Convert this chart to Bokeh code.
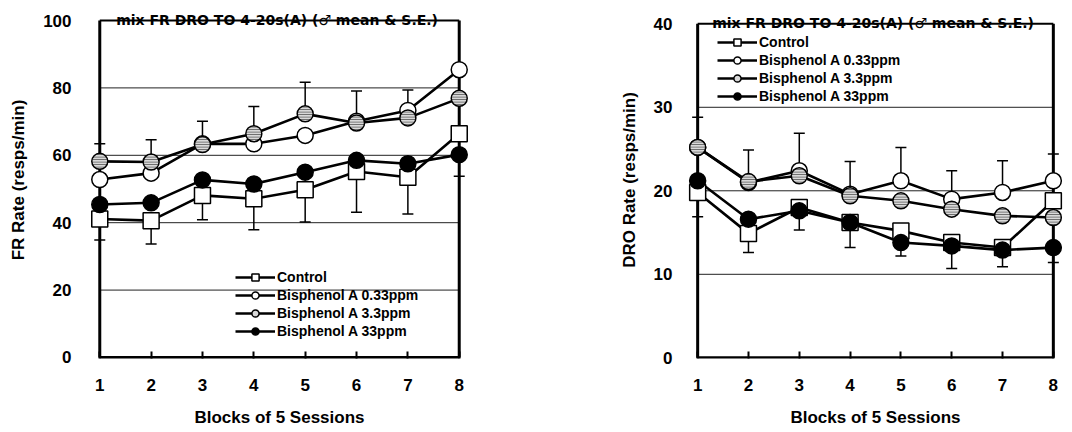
from bokeh.plotting import figure
from bokeh.layouts import row
from bokeh.models import Range1d, Label, Legend, LegendItem
from bokeh.embed import file_html
from bokeh.resources import INLINE

# ---------------- data ----------------
blocks = [1, 2, 3, 4, 5, 6, 7, 8]
series_names = ["Control", "Bisphenol A 0.33ppm", "Bisphenol A 3.3ppm", "Bisphenol A 33ppm"]
title_text = "mix FR DRO TO 4-20s(A)  (\u2642 mean & S.E.)"
x_title = "Blocks of 5 Sessions"

# FR rate (left panel)
fr_control = [41.1, 40.6, 48.1, 47.1, 49.8, 55.2, 53.5, 66.4]
fr_bpa_033 = [52.8, 54.7, 63.4, 63.4, 65.9, 70.1, 73.3, 85.4]
fr_bpa_33 = [58.2, 58.0, 63.2, 66.4, 72.3, 69.6, 71.1, 76.9]
fr_bpa_330 = [45.4, 45.9, 52.7, 51.5, 55.0, 58.5, 57.5, 60.2]
fr_se_up_bpa_33 = [5.2, 6.6, 6.9, 8.1, 9.4, 9.5, 8.3, 8.0]
fr_se_down_control = [6.2, 6.9, 7.2, 9.2, 9.6, 12.1, 10.9, 12.6]
fr_yticks = [0, 20, 40, 60, 80, 100]

# DRO rate (right panel)
dro_control = [19.8, 14.9, 18.0, 16.2, 15.2, 13.8, 13.2, 18.8]
dro_bpa_033 = [25.2, 21.0, 22.4, 19.6, 21.2, 19.0, 19.8, 21.2]
dro_bpa_33 = [25.2, 21.1, 21.8, 19.4, 18.8, 17.8, 17.0, 16.8]
dro_bpa_330 = [21.2, 16.6, 17.6, 16.2, 13.8, 13.4, 12.9, 13.2]
dro_se_up_bpa_033 = [3.6, 3.9, 4.5, 3.9, 4.0, 3.4, 3.8, 3.2]
dro_se_down_control = [2.9, 2.3, 2.7, 3.0, 3.0, 3.1, 2.3, 7.4]
dro_yticks = [0, 10, 20, 30, 40]

FONT = "Liberation Sans"

STYLES = [
    dict(marker="square", fill_color="white"),
    dict(marker="circle", fill_color="white"),
    dict(marker="circle", fill_color="#d9d9d9", hatch_pattern="horizontal_line",
         hatch_color="#555555", hatch_scale=2.5, hatch_weight=1),
    dict(marker="circle", fill_color="black"),
]


def make_panel(values, se_up_idx, se_up, se_down_idx, se_down, yticks, y_range,
               ylabel, width, bl, br, y_std, legend_xy):
    p = figure(width=width, height=432, output_backend="svg", toolbar_location=None,
               x_range=Range1d(0.8, 8.2), y_range=Range1d(*y_range),
               min_border_left=bl, min_border_right=br, min_border_top=1,
               min_border_bottom=74)
    p.outline_line_color = None
    p.xgrid.visible = False
    p.ygrid.visible = False
    p.background_fill_color = "white"

    xmin, xmax = min(blocks), max(blocks)
    ymax = max(yticks)
    inner = yticks[1:-1]
    # grid lines
    p.segment(x0=[xmin] * len(inner), x1=[xmax] * len(inner), y0=inner, y1=inner,
              line_color="#222222", line_width=1)
    # frame
    p.segment(x0=[xmin, xmax, xmin], y0=[0, 0, 0], x1=[xmin, xmax, xmax],
              y1=[ymax, ymax, 0], line_color="black", line_width=3)
    p.segment(x0=[xmin], y0=[ymax], x1=[xmax], y1=[ymax], line_color="black",
              line_width=2)

    # error bars
    up_base = values[se_up_idx]
    up_top = [v + e for v, e in zip(up_base, se_up)]
    p.segment(x0=blocks, y0=up_base, x1=blocks, y1=up_top, line_color="black",
              line_width=1.5)
    p.scatter(blocks, up_top, marker="dash", size=11, line_color="black", line_width=1.5)
    dn_base = values[se_down_idx]
    dn_bot = [v - e for v, e in zip(dn_base, se_down)]
    p.segment(x0=blocks, y0=dn_bot, x1=blocks, y1=dn_base, line_color="black",
              line_width=1.5)
    p.scatter(blocks, dn_bot, marker="dash", size=11, line_color="black", line_width=1.5)

    for vals in values:
        p.line(blocks, vals, line_color="black", line_width=2.6)
    for vals, st in zip(values, STYLES):
        p.scatter(blocks, vals, size=16, line_color="black", line_width=1.5, **st)

    # legend proxies (hidden renderers with small markers, as in the original key)
    items = []
    for n, vals, st in zip(series_names, values, STYLES):
        lr = p.line(x=blocks[:2], y=vals[:2], line_color="black", line_width=2.6,
                    visible=False)
        mr = p.scatter(x=blocks[:1], y=vals[:1], size=8, line_color="black",
                       line_width=1.5, visible=False,
                       **{k: v for k, v in st.items() if not k.startswith("hatch")})
        items.append(LegendItem(label=n, renderers=[lr, mr]))
    leg = Legend(items=items, location=legend_xy, border_line_color=None,
                 background_fill_alpha=0, inactive_fill_alpha=0,
                 glyph_width=40, glyph_height=18,
                 label_height=16, spacing=0, padding=0, margin=0, label_standoff=2,
                 label_text_font=FONT, label_text_font_size="14px",
                 label_text_font_style="bold", label_text_color="black")
    p.add_layout(leg)

    p.add_layout(Label(x=(xmin + xmax) / 2, y=ymax, text=title_text,
                       text_align="center", text_baseline="alphabetic", y_offset=1,
                       text_font="DejaVu Sans", text_font_size="14px",
                       text_font_style="bold", text_color="black"))

    xa = p.xaxis[0]
    xa.ticker = blocks
    xa.axis_line_color = None
    xa.major_tick_in = 7
    xa.major_tick_out = 0
    xa.major_tick_line_width = 2
    xa.major_tick_line_color = "black"
    xa.minor_tick_line_color = None
    xa.major_label_standoff = 20
    xa.major_label_text_font = FONT
    xa.major_label_text_font_size = "17px"
    xa.major_label_text_font_style = "bold"
    xa.major_label_text_color = "black"
    xa.axis_label = x_title
    xa.axis_label_standoff = 14
    xa.axis_label_text_font = FONT
    xa.axis_label_text_font_size = "17px"
    xa.axis_label_text_font_style = "bold"
    xa.axis_label_text_color = "black"

    ya = p.yaxis[0]
    ya.ticker = yticks
    ya.axis_line_color = None
    ya.major_tick_in = 0
    ya.major_tick_out = 0
    ya.minor_tick_line_color = None
    ya.major_label_standoff = y_std
    ya.major_label_text_font = FONT
    ya.major_label_text_font_size = "17px"
    ya.major_label_text_font_style = "bold"
    ya.major_label_text_color = "black"
    ya.axis_label = ylabel
    ya.axis_label_standoff = 12
    ya.axis_label_text_font = FONT
    ya.axis_label_text_font_size = "17px"
    ya.axis_label_text_font_style = "bold"
    ya.axis_label_text_color = "black"
    return p


p1 = make_panel([fr_control, fr_bpa_033, fr_bpa_33, fr_bpa_330], 2, fr_se_up_bpa_33,
                0, fr_se_down_control, fr_yticks, (-0.3, 105.64), "FR Rate (resps/min)",
                548, 89, 79, 18, (146, 18))
p2 = make_panel([dro_control, dro_bpa_033, dro_bpa_33, dro_bpa_330], 1,
                dro_se_up_bpa_033, 0, dro_se_down_control, dro_yticks, (-0.084, 42.67),
                "DRO Rate (resps/min)", 524, 139, 9, 15, (30, 253))

layout = row(p1, p2)
open("out.html", "w").write(file_html(layout, INLINE))
